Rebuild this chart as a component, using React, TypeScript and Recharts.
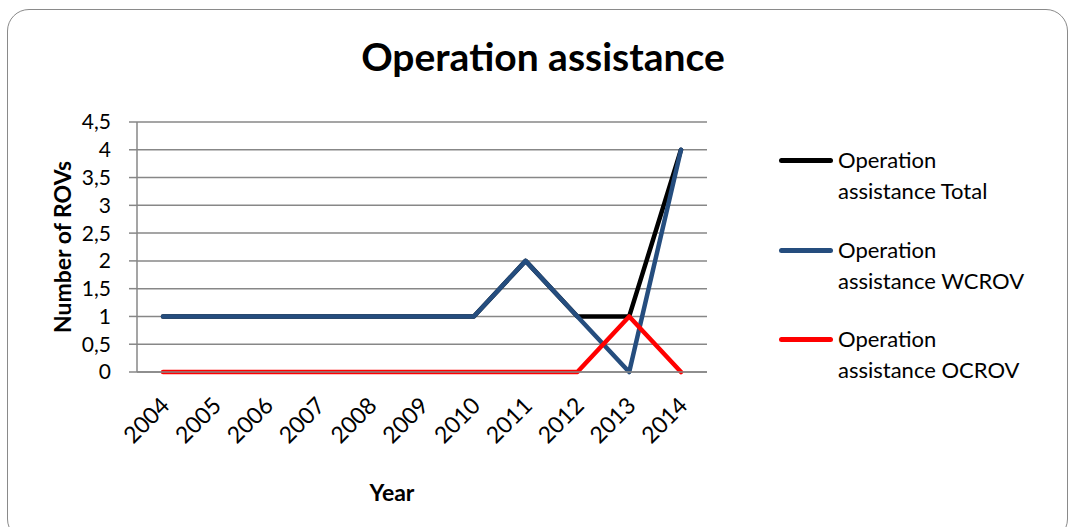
import React from 'react';
import { LineChart, Line, XAxis, YAxis, CartesianGrid } from 'recharts';

const years = ['2004', '2005', '2006', '2007', '2008', '2009', '2010', '2011', '2012', '2013', '2014'];
const total = [1, 1, 1, 1, 1, 1, 1, 2, 1, 1, 4];
const wcrov = [1, 1, 1, 1, 1, 1, 1, 2, 1, 0, 4];
const ocrov = [0, 0, 0, 0, 0, 0, 0, 0, 0, 1, 0];
const yTicks = [0, 0.5, 1, 1.5, 2, 2.5, 3, 3.5, 4, 4.5];

const series = [
  { key: 'total', first: 'Operation', rest: 'assistance Total', color: '#000000' },
  { key: 'wcrov', first: 'Operation', rest: 'assistance WCROV', color: '#254D7E' },
  { key: 'ocrov', first: 'Operation', rest: 'assistance OCROV', color: '#FF0000' },
];

const data = years.map((year, i) => ({
  year,
  total: total[i],
  wcrov: wcrov[i],
  ocrov: ocrov[i],
}));

const font = 'Lato, "Open Sans", sans-serif';

const YearTick = (props: any) => {
  const { x, y, payload } = props;
  const ax = x + 8;
  const ay = y + 27;
  return (
    <text
      x={ax}
      y={ay}
      transform={`rotate(-45, ${ax}, ${ay})`}
      textAnchor="end"
      fontSize={23}
      fontFamily={font}
      fill="#000"
    >
      {payload.value}
    </text>
  );
};

export default function App() {
  return (
    <div style={{ position: 'absolute', left: 0, top: 0, width: 1073, height: 527, background: '#fff' }}>
      <div
        style={{
          position: 'absolute',
          left: 7,
          top: 9,
          width: 1059,
          height: 530,
          border: '1.5px solid #8a8a8a',
          borderRadius: 22,
        }}
      />
      <div
        style={{
          position: 'absolute',
          left: 0,
          width: 1086,
          top: 33,
          textAlign: 'center',
          fontFamily: font,
          fontWeight: 'bold',
          fontSize: 39,
          color: '#000',
        }}
      >
        Operation assistance
      </div>
      <div
        style={{
          position: 'absolute',
          left: 62,
          top: 247,
          transform: 'translate(-50%, -50%) rotate(-90deg)',
          whiteSpace: 'nowrap',
          fontFamily: font,
          fontWeight: 'bold',
          fontSize: 23,
          color: '#000',
        }}
      >
        Number of ROVs
      </div>
      <div
        style={{
          position: 'absolute',
          left: 392,
          top: 492,
          transform: 'translate(-50%, -50%)',
          fontFamily: font,
          fontWeight: 'bold',
          fontSize: 23,
          color: '#000',
        }}
      >
        Year
      </div>
      <div style={{ position: 'absolute', left: 0, top: 0 }}>
        <LineChart
          width={1073}
          height={527}
          data={data}
          margin={{ top: 122, right: 366, bottom: 95, left: 77 }}
        >
          <CartesianGrid vertical={false} stroke="#878787" strokeWidth={1.5} />
          <XAxis
            dataKey="year"
            height={60}
            padding={{ left: 26, right: 26 }}
            tickLine={false}
            axisLine={{ stroke: '#878787', strokeWidth: 1.5 }}
            tick={<YearTick />}
            interval={0}
          />
          <YAxis
            width={60}
            domain={[0, 4.5]}
            ticks={yTicks}
            interval={0}
            tickSize={8}
            tickMargin={18}
            tickLine={{ stroke: '#878787', strokeWidth: 1.5 }}
            axisLine={{ stroke: '#878787', strokeWidth: 1.5 }}
            tickFormatter={(v: number) => String(v).replace('.', ',')}
            tick={{ fontSize: 21, fontFamily: font, fill: '#000' }}
          />
          {series.map((s) => (
            <Line
              key={s.key}
              dataKey={s.key}
              stroke={s.color}
              strokeWidth={4.5}
              strokeLinecap="round"
              strokeLinejoin="round"
              dot={false}
              activeDot={false}
              type="linear"
              isAnimationActive={false}
            />
          ))}
        </LineChart>
      </div>
      <div
        style={{
          position: 'absolute',
          left: 779,
          top: 144,
          width: 290,
          fontFamily: font,
          fontSize: 22,
          color: '#000',
        }}
      >
        {series.map((s) => (
          <div key={s.key} style={{ display: 'flex', alignItems: 'flex-start', height: 89.5 }}>
            <div
              style={{
                width: 54,
                height: 5,
                borderRadius: 3,
                background: s.color,
                marginTop: 14,
                marginRight: 5,
              }}
            />
            <div style={{ lineHeight: '31px' }}>
              {s.first}
              <br />
              {s.rest}
            </div>
          </div>
        ))}
      </div>
    </div>
  );
}
